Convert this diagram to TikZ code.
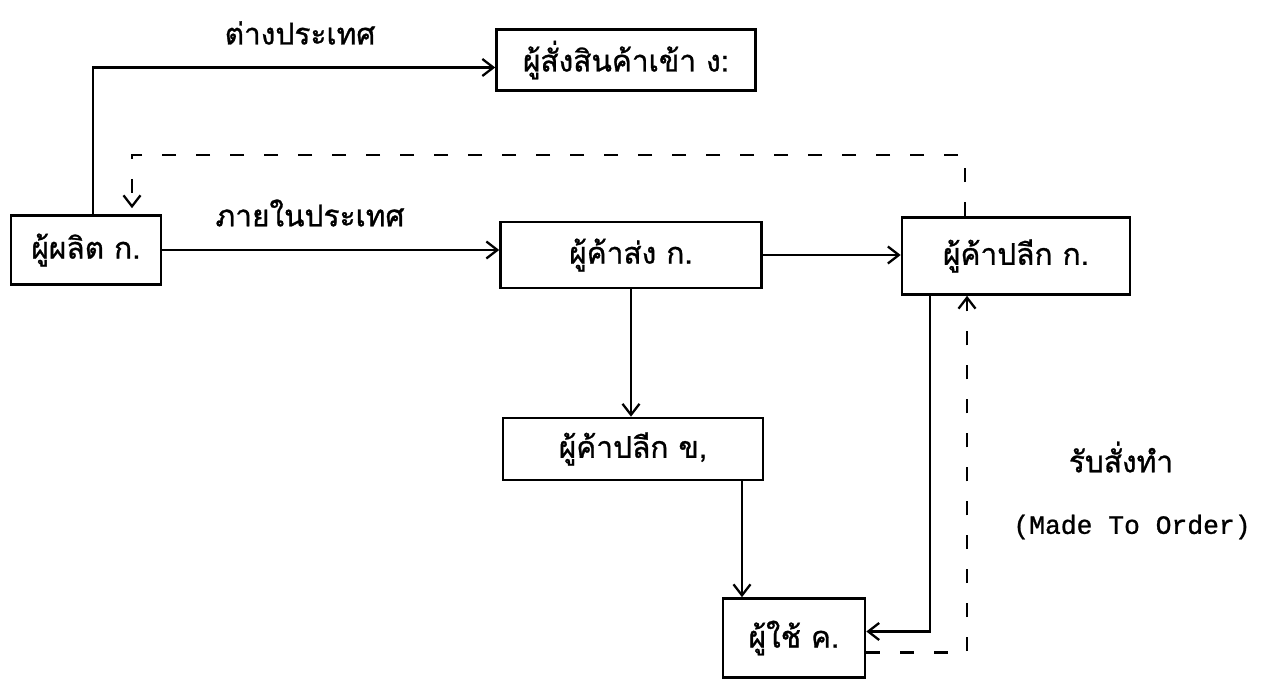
\documentclass[tikz,border=0pt]{standalone}
\usepackage{fontspec}
\usepackage{tikz}
\usetikzlibrary{arrows.meta, positioning}
\newfontfamily\thaifont[Script=Thai, FakeBold=1]{Loma}
\newfontfamily\typefont[FakeBold=1]{Liberation Mono}

\begin{document}
\begin{tikzpicture}[
    x=0.02cm, y=-0.02cm,
    box/.style={draw, line width=1.5pt, inner sep=0pt, font=\thaifont\fontsize{17}{20}\selectfont},
    lbl/.style={font=\thaifont\fontsize{17}{20}\selectfont},
    flow/.style={line width=1.3pt, -{Straight Barb[length=2.2mm, width=3.4mm]}},
    order/.style={flow, dash pattern=on 2.8mm off 4mm}
  ]
  \useasboundingbox (0,0) rectangle (1264,692);

  % boxes
  \node[box, minimum width=3cm, minimum height=1.38cm] (prod) at (86,250) {ผู้ผลิต ก.};
  \node[box, minimum width=5.18cm, minimum height=1.22cm] (imp) at (626,60) {ผู้สั่งสินค้าเข้า ง:};
  \node[box, minimum width=5.22cm, minimum height=1.32cm] (whole) at (631,255) {ผู้ค้าส่ง ก.};
  \node[box, minimum width=4.56cm, minimum height=1.54cm] (retA) at (1016,256) {ผู้ค้าปลีก ก.};
  \node[box, minimum width=5.2cm, minimum height=1.24cm] (retB) at (633,449) {ผู้ค้าปลีก ข,};
  \node[box, minimum width=2.84cm, minimum height=1.58cm] (user) at (794,638) {ผู้ใช้ ค.};

  % labels
  \node[lbl] (lblOut) at (300,33) {ต่างประเทศ};
  \node[lbl] (lblIn) at (310,213) {ภายในประเทศ};
  \node[lbl] (lblOrd) at (1121,457) {รับสั่งทำ};
  \node[font=\typefont\fontsize{15}{18}\selectfont] (lblMto) at (1132,527) {(Made To Order)};

  % goods flow
  \draw[flow] ([xshift=0.14cm]prod.north) |- ([yshift=-0.15cm]imp.west);
  \draw[flow] (prod.east) -- (prod.east -| whole.west);
  \draw[flow] (whole.east) -- (whole.east -| retA.west);
  \draw[flow] (whole.south) -- (whole.south |- retB.north);
  \draw[flow] ([xshift=2.18cm]retB.south) -- ([xshift=2.18cm]retB.south |- user.north);
  \draw[flow] ([xshift=-1.72cm]retA.south) |- ([yshift=0.13cm]user.east);

  % made to order
  \draw[order] ([yshift=-0.29cm]user.east) -| ([xshift=-0.98cm]retA.south);
  \draw[order, shorten >=0.12cm] ([xshift=-1.02cm]retA.north) -- ++(0,-61) -| ([xshift=0.92cm]prod.north);
\end{tikzpicture}
\end{document}
